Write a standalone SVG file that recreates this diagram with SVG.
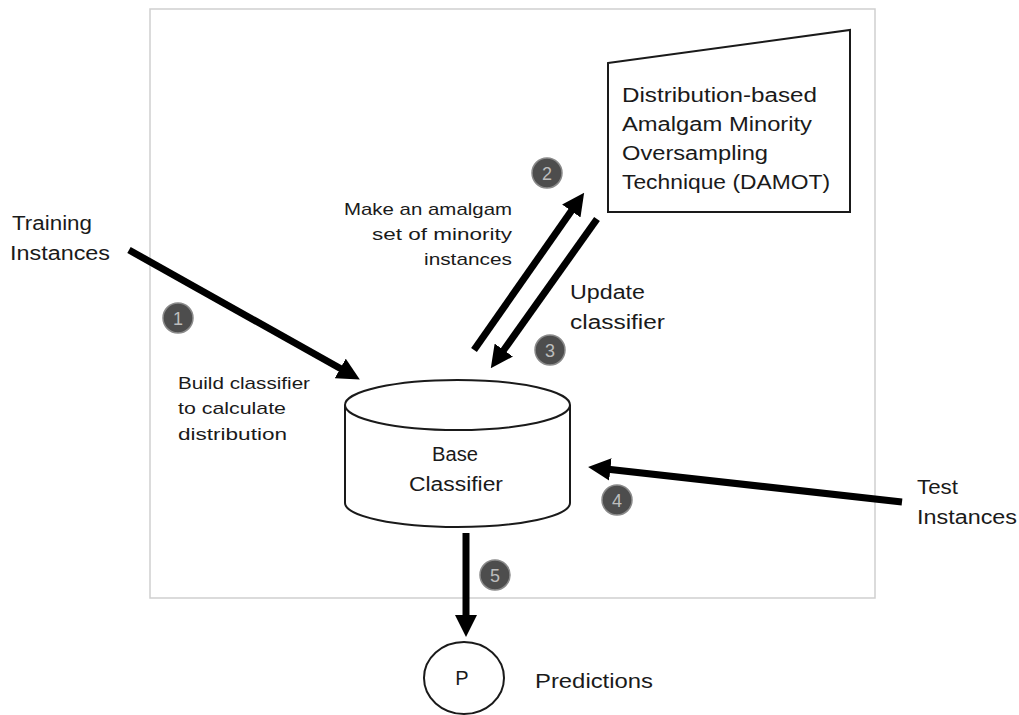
<svg xmlns="http://www.w3.org/2000/svg" width="1019" height="715" viewBox="0 0 1019 715">
<style>
.t{font-family:"Liberation Sans",Arial,sans-serif;font-size:20px;fill:#1a1a1a}
.s{font-family:"Liberation Sans",Arial,sans-serif;font-size:17px;fill:#1a1a1a}
.shape{fill:#fff;stroke:#1a1a1a;stroke-width:2}
.arr{stroke:#000;stroke-width:7;fill:none}
.badge circle{fill:#4d4d4d;stroke:#8a8a8a;stroke-width:1.5}
.badge text{font-family:"Liberation Sans",Arial,sans-serif;font-size:18px;fill:#bdbdbd;text-anchor:middle}
</style>
<defs>
<marker id="ah" viewBox="0 0 10 10" refX="6" refY="5" markerWidth="3.2" markerHeight="3.2" orient="auto" markerUnits="strokeWidth">
<path d="M0,0 L10,5 L0,10 z" fill="#000"/>
</marker>
</defs>
<rect width="1019" height="715" fill="#fff"/>
<g id="frame">
<rect x="150" y="9" width="725" height="589" fill="none" stroke="#cfcfcf" stroke-width="1.5"/>
</g>
<g id="connectors">
<line class="arr" x1="129" y1="250" x2="352" y2="375" marker-end="url(#ah)"/>
<line class="arr" x1="474" y1="350" x2="579" y2="200" marker-end="url(#ah)"/>
<line class="arr" x1="597" y1="219" x2="496" y2="361" marker-end="url(#ah)"/>
<line class="arr" x1="902" y1="502" x2="597" y2="468" marker-end="url(#ah)"/>
<line class="arr" x1="466" y1="533" x2="466" y2="628" marker-end="url(#ah)"/>
</g>
<g id="damot">
<path class="shape" d="M608,63 L850,30 L850,212 L608,212 Z"/>
<text class="t" x="622" y="102" textLength="195" lengthAdjust="spacingAndGlyphs">Distribution-based</text>
<text class="t" x="622" y="131" textLength="190" lengthAdjust="spacingAndGlyphs">Amalgam Minority</text>
<text class="t" x="622" y="160" textLength="146" lengthAdjust="spacingAndGlyphs">Oversampling</text>
<text class="t" x="622" y="189" textLength="208" lengthAdjust="spacingAndGlyphs">Technique (DAMOT)</text>
</g>
<g id="base-classifier">
<path class="shape" d="M345,405 L345,503 A112.5,24 0 0 0 570,503 L570,405"/>
<ellipse class="shape" cx="457.5" cy="405" rx="112.5" ry="25"/>
<text class="t" x="455" y="461" text-anchor="middle" textLength="46" lengthAdjust="spacingAndGlyphs">Base</text>
<text class="t" x="456" y="491" text-anchor="middle" textLength="94" lengthAdjust="spacingAndGlyphs">Classifier</text>
</g>
<g id="predictions">
<ellipse class="shape" cx="464" cy="678" rx="40" ry="36"/>
<text class="t" x="462" y="685" text-anchor="middle">P</text>
<text class="t" x="535" y="688" textLength="118" lengthAdjust="spacingAndGlyphs">Predictions</text>
</g>
<g id="training">
<text class="t" x="12" y="230" textLength="80" lengthAdjust="spacingAndGlyphs">Training</text>
<text class="t" x="10" y="260" textLength="100" lengthAdjust="spacingAndGlyphs">Instances</text>
</g>
<g id="test">
<text class="t" x="917" y="494" textLength="41" lengthAdjust="spacingAndGlyphs">Test</text>
<text class="t" x="917" y="524" textLength="100" lengthAdjust="spacingAndGlyphs">Instances</text>
</g>
<g id="labels">
<text class="s" x="178" y="389" textLength="132" lengthAdjust="spacingAndGlyphs">Build classifier</text>
<text class="s" x="178" y="414" textLength="108" lengthAdjust="spacingAndGlyphs">to calculate</text>
<text class="s" x="178" y="440" textLength="109" lengthAdjust="spacingAndGlyphs">distribution</text>
<text class="s" x="512" y="215" text-anchor="end" textLength="168" lengthAdjust="spacingAndGlyphs">Make an amalgam</text>
<text class="s" x="512" y="240" text-anchor="end" textLength="140" lengthAdjust="spacingAndGlyphs">set of  minority</text>
<text class="s" x="512" y="265" text-anchor="end" textLength="88" lengthAdjust="spacingAndGlyphs">instances</text>
<text class="t" x="570" y="299" textLength="75" lengthAdjust="spacingAndGlyphs">Update</text>
<text class="t" x="570" y="329" textLength="95" lengthAdjust="spacingAndGlyphs">classifier</text>
</g>
<g id="badges" class="badge">
<circle cx="178" cy="318" r="15"/><text x="178" y="324.5">1</text>
<circle cx="547" cy="173" r="15"/><text x="547" y="179.5">2</text>
<circle cx="550" cy="350" r="15"/><text x="550" y="356.5">3</text>
<circle cx="617" cy="500" r="15"/><text x="617" y="506.5">4</text>
<circle cx="495" cy="575" r="15"/><text x="495" y="581.5">5</text>
</g>
</svg>
